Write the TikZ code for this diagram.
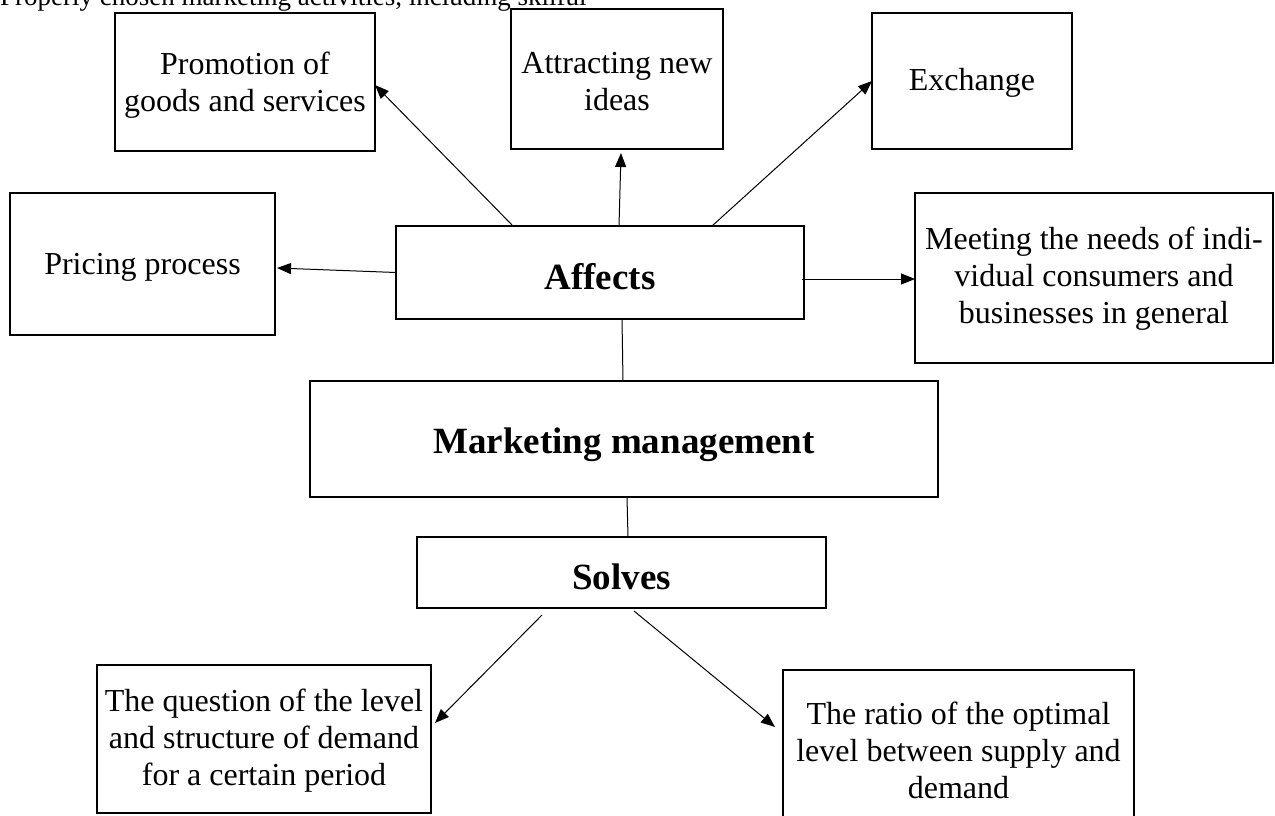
\documentclass[tikz,border=0pt]{standalone}
\usepackage{fontspec}
\setmainfont{Liberation Serif}
\usetikzlibrary{arrows.meta,calc}
\begin{document}
\begin{tikzpicture}[x=1pt,y=-1pt,
  box/.style={draw, line width=2.5pt, inner sep=0pt, outer sep=0pt},
  txt/.style={inner sep=0pt, align=center, font=\fontsize{32}{37}\selectfont},
  btxt/.style={inner sep=0pt, align=center, font=\fontsize{37}{42}\selectfont\bfseries},
  arr/.style={line width=1pt, -{Triangle[length=14pt,width=11pt]}},
  ln/.style={line width=1pt}]
\useasboundingbox (0,0) rectangle (1275,816);
\clip (0,0) rectangle (1275,816);
\fill[white] (0,0) rectangle (1275,816);

\node[anchor=base west, inner sep=0pt, font=\fontsize{27}{30}\selectfont] (top) at (0,6) {Properly chosen marketing activities, including skilful};

\node[box, minimum width=260pt, minimum height=138pt, label={[txt,yshift=-3pt]center:Promotion of\\goods and services}] (promo) at (245,82) {};
\node[box, minimum width=212pt, minimum height=140pt, label={[txt,yshift=-3pt]center:Attracting new\\ideas}] (attr) at (617,79) {};
\node[box, minimum width=200pt, minimum height=136pt, label={[txt,yshift=-2pt]center:Exchange}] (exch) at (972,81) {};
\node[box, minimum width=265pt, minimum height=142pt, label={[txt,yshift=-3pt]center:Pricing process}] (price) at (142.5,264) {};
\node[box, minimum width=408pt, minimum height=93pt, label={[btxt,yshift=-4pt]center:Affects}] (aff) at (600,272.5) {};
\node[box, minimum width=358pt, minimum height=170pt, label={[txt,yshift=-1pt]center:Meeting the needs of indi-\\vidual consumers and\\businesses in general}] (meet) at (1094,278) {};
\node[box, minimum width=628pt, minimum height=116pt, label={[btxt,yshift=-6pt]center:Marketing management}] (mm) at (624,439) {};
\node[box, minimum width=409pt, minimum height=71pt, label={[btxt,yshift=-4pt]center:Solves}] (solv) at (621.5,572.5) {};
\node[box, minimum width=334pt, minimum height=148pt, label={[txt,yshift=-2pt]center:The question of the level\\and structure of demand\\for a certain period}] (quest) at (264,739) {};
\node[box, minimum width=351pt, minimum height=160pt, label={[txt]center:The ratio of the optimal\\level between supply and\\demand}] (ratio) at (958.5,750) {};

\draw[arr] ($(aff.north west)+(117,0)$) -- ($(promo.east)+(0,3)$);
\draw[arr] ($(aff.north west)+(223,0)$) -- ($(attr.south)+(4,4)$);
\draw[arr] ($(aff.north west)+(316,0)$) -- (exch.west);
\draw[arr] (aff.west) -- ($(price.east)+(2,4)$);
\draw[arr] ($(aff.east)+(-2,6.5)$) -- ($(meet.west)+(0,1)$);
\draw[ln] ($(aff.south)+(22,0)$) -- ($(mm.north)+(-1,0)$);
\draw[ln] ($(mm.south)+(3,0)$) -- ($(solv.north)+(6.5,0)$);
\draw[arr] ($(solv.south)+(-79.5,7)$) -- ($(quest.east)+(4,-16)$);
\draw[arr] ($(solv.south)+(12.5,3)$) -- ($(ratio.west)+(-8,-23)$);
\end{tikzpicture}
\end{document}
